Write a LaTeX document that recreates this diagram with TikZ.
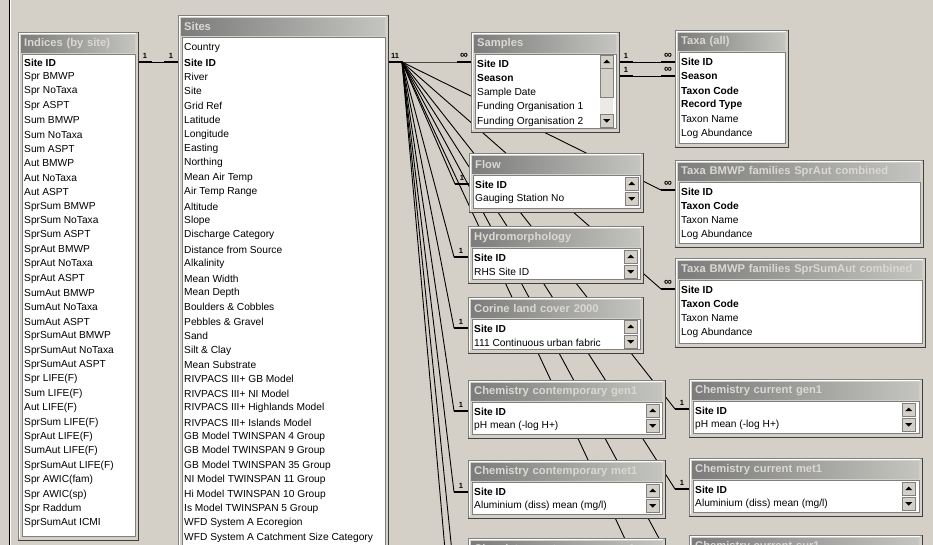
\documentclass[tikz,border=0pt]{standalone}
\usepackage{fontspec}
\setmainfont{Liberation Sans}
\usetikzlibrary{calc}
\definecolor{winbg}{HTML}{D4D0C8}
\definecolor{shade}{HTML}{808080}
\definecolor{dkshade}{HTML}{404040}
\definecolor{capl}{HTML}{7C7C7C}
\definecolor{capr}{HTML}{C4C4C0}
\definecolor{captext}{HTML}{DAD8D2}
\definecolor{track}{HTML}{ECEAE6}
\tikzset{tblframe/.style={draw=shade,fill=winbg,anchor=north west,inner sep=0pt},
  tbltitle/.style={anchor=north west,inner xsep=3pt,inner ysep=0pt,minimum height=17,left color=capl,right color=capr,text=captext,align=left,font=\fontsize{11.2}{13}\selectfont\bfseries},
  tbllist/.style={fill=white,draw=shade,line width=1.2pt,anchor=north west,inner sep=0pt},
  field/.style={anchor=west,inner sep=0pt,font=\fontsize{10.2}{12}\selectfont},
  btn/.style={draw=shade,fill=winbg,anchor=north west,inner sep=0pt,minimum size=13},
  rel/.style={line width=0.9pt},
  stub/.style={line width=2.8pt},
  card/.style={anchor=south,inner sep=0pt,font=\fontsize{7.5}{8}\selectfont\bfseries}}
\def\rowoff{31.5}
\def\rowstep{14.5}
\newcommand{\infsym}{{\fontsize{11}{11}\selectfont ∞}}
% name, x, y, width, height, title, fields
\newcommand{\acctable}[7]{%
  \node[tblframe,minimum width=#4,minimum height=#5] (#1) at (#2,#3) {};
  \draw[dkshade] (#1.north east) -- (#1.south east) -- (#1.south west);
  \draw[white] ($(#1.south west)+(1,-2)$) |- ($(#1.north east)+(-2,1)$);
  \pgfmathsetmacro\tw{#4-12}
  \node[tbltitle,text width=\tw pt] (#1-t) at (#2+3,#3+3) {#6};
  \node[tbllist,minimum width=#4-7,minimum height=#5-26] (#1-l) at (#2+3.5,#3+22) {};
  \foreach \f [count=\i] in {#7}
    \node[field] (#1-\i) at (#2+6,#3+\rowoff+\i*\rowstep-\rowstep) {\f};
}
% name, x, y: up and down buttons
\newcommand{\sbtns}[3]{%
  \node[btn] (#1-up) at (#2,#3) {};
  \fill (#1-up.center) ++(0,-2) -- ++(3.5,3.5) -- ++(-7,0) -- cycle;
  \node[btn] (#1-dn) at (#2,#3+15) {};
  \fill (#1-dn.center) ++(0,2) -- ++(3.5,-3.5) -- ++(-7,0) -- cycle;
}

\begin{document}
\begin{tikzpicture}[x=1pt,y=-1pt]
\clip (0,0) rectangle (933,545);
\fill[winbg] (0,0) rectangle (933,545);
\draw[shade] (9,0) -- (9,545);
\draw[white] (10.5,0) -- (10.5,545);

\coordinate (indR) at (138,62); \coordinate (indS) at (152,62);
\coordinate (sitS) at (164,62); \coordinate (sitL) at (178,62);
\draw[rel] (indR) -- (sitL);
\draw[stub] (indR) -- (indS); \draw[stub] (sitS) -- (sitL);
\node[card] (ind1) at ($(indR)!.5!(indS)+(0,-3)$) {1};
\node[card] (sit1) at ($(sitS)!.5!(sitL)+(0,-3)$) {1};

\coordinate (sitR) at (388,62); \coordinate (fan) at (402,62);
\draw[stub] (sitR) -- (fan);
\node[card] (sit11) at ($(sitR)!.5!(fan)+(0,-3)$) {11};
\foreach \t/\xs/\y/\c in {smp/457/62/\infsym,flow/455/184/1,hydro/454/257/1,corine/454/328/1,cgen/454/411/1,cmet/454/492/1,csur/454/572/1,cnext/454/652/1,tspr/661/190/\infsym,tsum/661/289/\infsym,rgen/675/409/1,rmet/675/489/1,rsur/675/568/1,rnext/675/646/1}{
  \coordinate (\t S) at (\xs,\y); \coordinate (\t L) at (\xs+14,\y);
  \draw[rel] (sitR) -- (fan) -- (\t S) -- (\t L);
  \draw[stub] (\t S) -- (\t L);
  \node[card] (\t c) at ($(\t S)!.5!(\t L)+(0,-3)$) {\c};
}

\foreach \y [count=\k] in {62,76}{
  \coordinate (smpR\k) at (619,\y); \coordinate (smpS\k) at (633,\y);
  \coordinate (taxS\k) at (661,\y); \coordinate (taxL\k) at (675,\y);
  \draw[rel] (smpR\k) -- (taxL\k);
  \draw[stub] (smpR\k) -- (smpS\k); \draw[stub] (taxS\k) -- (taxL\k);
  \node[card] (smp1\k) at ($(smpR\k)!.5!(smpS\k)+(0,-3)$) {1};
  \node[card] (taxinf\k) at ($(taxS\k)!.5!(taxL\k)+(0,-3)$) {\infsym};
}

\def\rowoff{30.5}\def\rowstep{14.4}
\acctable{ind}{18}{32}{120}{508}{Indices (by site)}{{\textbf{Site ID}},Spr BMWP,Spr NoTaxa,Spr ASPT,Sum BMWP,Sum NoTaxa,Sum ASPT,Aut BMWP,Aut NoTaxa,Aut ASPT,SprSum BMWP,SprSum NoTaxa,SprSum ASPT,SprAut BMWP,SprAut NoTaxa,SprAut ASPT,SumAut BMWP,SumAut NoTaxa,SumAut ASPT,SprSumAut BMWP,SprSumAut NoTaxa,SprSumAut ASPT,Spr LIFE(F),Sum LIFE(F),Aut LIFE(F),SprSum LIFE(F),SprAut LIFE(F),SumAut LIFE(F),SprSumAut LIFE(F),Spr AWIC(fam),Spr AWIC(sp),Spr Raddum,SprSumAut ICMI}
\def\rowoff{33}
\acctable{sites}{178}{15}{210}{560}{Sites}{Country,{\textbf{Site ID}},River,Site,Grid Ref,Latitude,Longitude,Easting,Northing,Mean Air Temp,Air Temp Range,Altitude,Slope,Discharge Category,Distance from Source,Alkalinity,Mean Width,Mean Depth,Boulders \& Cobbles,Pebbles \& Gravel,Sand,Silt \& Clay,Mean Substrate,RIVPACS III+ GB Model,RIVPACS III+ NI Model,RIVPACS III+ Highlands Model,RIVPACS III+ Islands Model,GB Model TWINSPAN 4 Group,GB Model TWINSPAN 9 Group,GB Model TWINSPAN 35 Group,NI Model TWINSPAN 11 Group,Hi Model TWINSPAN 10 Group,Is Model TWINSPAN 5 Group,WFD System A Ecoregion,WFD System A Catchment Size Category}
\def\rowoff{31.5}\def\rowstep{14.5}
\acctable{smp}{471}{32}{148}{100}{Samples}{{\textbf{Site ID}},{\textbf{Season}},Sample Date,Funding Organisation 1,Funding Organisation 2}
\node[btn] (smp-up) at (600,55) {};
\fill (smp-up.center) ++(0,-2) -- ++(3.5,3.5) -- ++(-7,0) -- cycle;
\fill[track] (600,68) rectangle (613,114);
\node[btn,minimum height=29] (smp-thumb) at (600,68) {};
\node[btn] (smp-dn) at (600,114) {};
\fill (smp-dn.center) ++(0,2) -- ++(3.5,-3.5) -- ++(-7,0) -- cycle;
\acctable{tax}{675}{30}{113}{117}{Taxa (all)}{{\textbf{Site ID}},{\textbf{Season}},{\textbf{Taxon Code}},{\textbf{Record Type}},Taxon Name,Log Abundance}
\acctable{flow}{469}{153}{174}{59}{Flow}{{\textbf{Site ID}},Gauging Station No}
\sbtns{flow}{625}{177}
\acctable{hydro}{468}{226}{175}{57}{Hydromorphology}{{\textbf{Site ID}},RHS Site ID}
\sbtns{hydro}{624}{250}
\acctable{tspr}{675}{160}{248}{87}{Taxa BMWP families SprAut combined}{{\textbf{Site ID}},{\textbf{Taxon Code}},Taxon Name,Log Abundance}
\acctable{tsum}{675}{258}{250}{89}{Taxa BMWP families SprSumAut combined}{{\textbf{Site ID}},{\textbf{Taxon Code}},Taxon Name,Log Abundance}
\acctable{corine}{468}{297}{175}{56}{Corine land cover 2000}{{\textbf{Site ID}},111 Continuous urban fabric}
\sbtns{corine}{624}{320}
\acctable{cgen}{468}{380}{197}{58}{Chemistry contemporary gen1}{{\textbf{Site ID}},pH mean (-log H+)}
\sbtns{cgen}{646}{404}
\acctable{cmet}{468}{460}{197}{58}{Chemistry contemporary met1}{{\textbf{Site ID}},{Aluminium (diss) mean (mg/l)}}
\sbtns{cmet}{646}{484}
\acctable{rgen}{689}{379}{233}{58}{Chemistry current gen1}{{\textbf{Site ID}},pH mean (-log H+)}
\sbtns{rgen}{902}{403}
\acctable{rmet}{689}{458}{233}{58}{Chemistry current met1}{{\textbf{Site ID}},{Aluminium (diss) mean (mg/l)}}
\sbtns{rmet}{902}{482}
\acctable{csur}{468}{538}{197}{58}{Chemistry contemporary sur1}{}
\acctable{rsur}{689}{535}{233}{58}{Chemistry current sur1}{}
\end{tikzpicture}
\end{document}
